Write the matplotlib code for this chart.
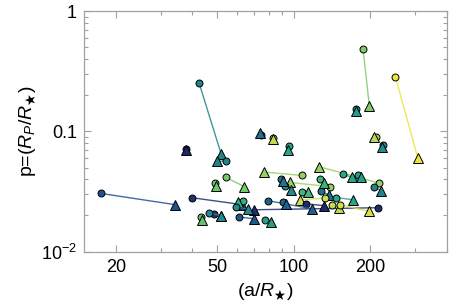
import matplotlib
matplotlib.use('Agg')
import matplotlib.pyplot as plt
from matplotlib.colors import LinearSegmentedColormap
from matplotlib.ticker import LogLocator, NullFormatter, FixedLocator

plt.rcParams['font.family'] = ['Liberation Sans', 'DejaVu Sans']
plt.rcParams['mathtext.fontset'] = 'custom'
plt.rcParams['mathtext.rm'] = 'Liberation Sans'
plt.rcParams['mathtext.it'] = 'Liberation Sans:italic'
plt.rcParams['mathtext.fallback'] = 'stixsans'

# circle = first value, triangle = second value, colour = third parameter
a_circ = [42.5, 17.45, 37.6, 39.8, 215.6, 54.2, 54.2, 48.9, 107.9, 216.1,
          155.9, 178.6, 206.5, 138.6, 92.8, 89.2, 107.9, 128.2, 147.3, 133.3,
          112.2, 141.6, 152.7, 79.7, 91.1, 63.5, 59.5, 61.1, 77.4, 43.2,
          48.7, 46.7, 74.4, 83.2, 96.2, 187.6, 176.5, 251.4, 211.1, 224.1, 127.4]
p_circ = [0.253, 0.0305, 0.072, 0.0281, 0.0232, 0.0569, 0.0414, 0.0372, 0.0430, 0.0372,
          0.0441, 0.0433, 0.0344, 0.0348, 0.0353, 0.0401, 0.0313, 0.0317, 0.0282, 0.0279,
          0.0250, 0.0244, 0.0246, 0.0265, 0.0258, 0.0264, 0.0235, 0.0194, 0.0184, 0.0196,
          0.0207, 0.0210, 0.0941, 0.0888, 0.0762, 0.484, 0.154, 0.285, 0.0905, 0.0773, 0.0401]
a_tri = [51.9, 34.2, 37.6, 62.8, 69.6, 50.2, 63.9, 49.6, 76.7, 125.5,
         169.8, 184.7, 221.5, 96.4, 97.7, 91.1, 113.9, 137.3, 170.8, 105.6,
         132.1, 151.3, 198.6, 118.2, 93.6, 60.7, 66.5, 70.0, 81.5, 43.8,
         51.8, 51.8, 73.5, 83.2, 94.7, 198.6, 176.5, 307.7, 207.8, 222.8, 131.3]
p_tri = [0.0651, 0.0246, 0.0702, 0.0246, 0.0223, 0.0562, 0.0348, 0.0353, 0.0459, 0.0510,
         0.0414, 0.0414, 0.0321, 0.0376, 0.0327, 0.0388, 0.0313, 0.0297, 0.0270, 0.0270,
         0.0241, 0.0231, 0.0216, 0.0227, 0.0249, 0.0259, 0.0226, 0.0188, 0.0178, 0.0184,
         0.0199, 0.0199, 0.0966, 0.0867, 0.0702, 0.163, 0.149, 0.0606, 0.0895, 0.0739, 0.0372]
cval = [0.42, 0.22, 0.04, 0.08, 0.06, 0.42, 0.72, 0.70, 0.78, 0.78,
        0.55, 0.52, 0.42, 0.80, 0.45, 0.36, 0.62, 0.34, 0.55, 0.92,
        0.04, 0.88, 0.94, 0.28, 0.28, 0.58, 0.45, 0.24, 0.52, 0.68,
        0.08, 0.45, 0.34, 0.88, 0.55, 0.74, 0.50, 1.0, 0.85, 0.45, 0.60]

cmap = LinearSegmentedColormap.from_list(
    'pal', [(0.0, '#1f1f62'), (0.2, '#1f4e8a'), (0.4, '#1f7f8e'), (0.55, '#26a68a'),
            (0.7, '#6cc66a'), (0.85, '#b4d95a'), (1.0, '#ece53a')])

fig = plt.figure(figsize=(4.58, 3.05), dpi=100)
ax = fig.add_axes([0.1834, 0.1748, 0.7919, 0.7891])

z = 2
for ac, pc, at, pt, c in zip(a_circ, p_circ, a_tri, p_tri, cval):
    col = cmap(c)
    ax.plot([ac, at], [pc, pt], '-', color=col, lw=1.0, alpha=0.85, zorder=z)
    ax.plot(ac, pc, 'o', ms=5, mfc=col, mec='black', mew=0.7, zorder=z + 1)
    ax.plot(at, pt, '^', ms=6.5, mfc=col, mec='black', mew=0.7, zorder=z + 2)
    z += 3

ax.set_xscale('log')
ax.set_yscale('log')
ax.set_xlim(15, 400)
ax.set_ylim(0.01, 1)

ax.xaxis.set_major_locator(FixedLocator([20, 50, 100, 200]))
ax.set_xticklabels(['20', '50', '100', '200'])
ax.xaxis.set_minor_locator(LogLocator(base=10, subs=range(1, 10), numticks=20))
ax.xaxis.set_minor_formatter(NullFormatter())
ax.yaxis.set_major_locator(FixedLocator([0.01, 0.1, 1]))
ax.set_yticklabels(['$10^{-2}$', '0.1', '1'])
ax.yaxis.set_minor_locator(LogLocator(base=10, subs=range(2, 10), numticks=20))
ax.yaxis.set_minor_formatter(NullFormatter())

ax.tick_params(which='both', direction='in', top=True, right=True, color='#a0a0a0',
               labelsize=13, width=0.8)
ax.tick_params(which='major', length=5, pad=5)
ax.tick_params(which='minor', length=3)
for s in ax.spines.values():
    s.set_color('#a0a0a0')
    s.set_linewidth(0.9)

ax.set_xlabel('(a/$R_\\bigstar$)', fontsize=14, labelpad=4)
ax.set_ylabel('p=($R_P/R_\\bigstar$)', fontsize=14, labelpad=2)

fig.savefig('out.png', dpi=100)
